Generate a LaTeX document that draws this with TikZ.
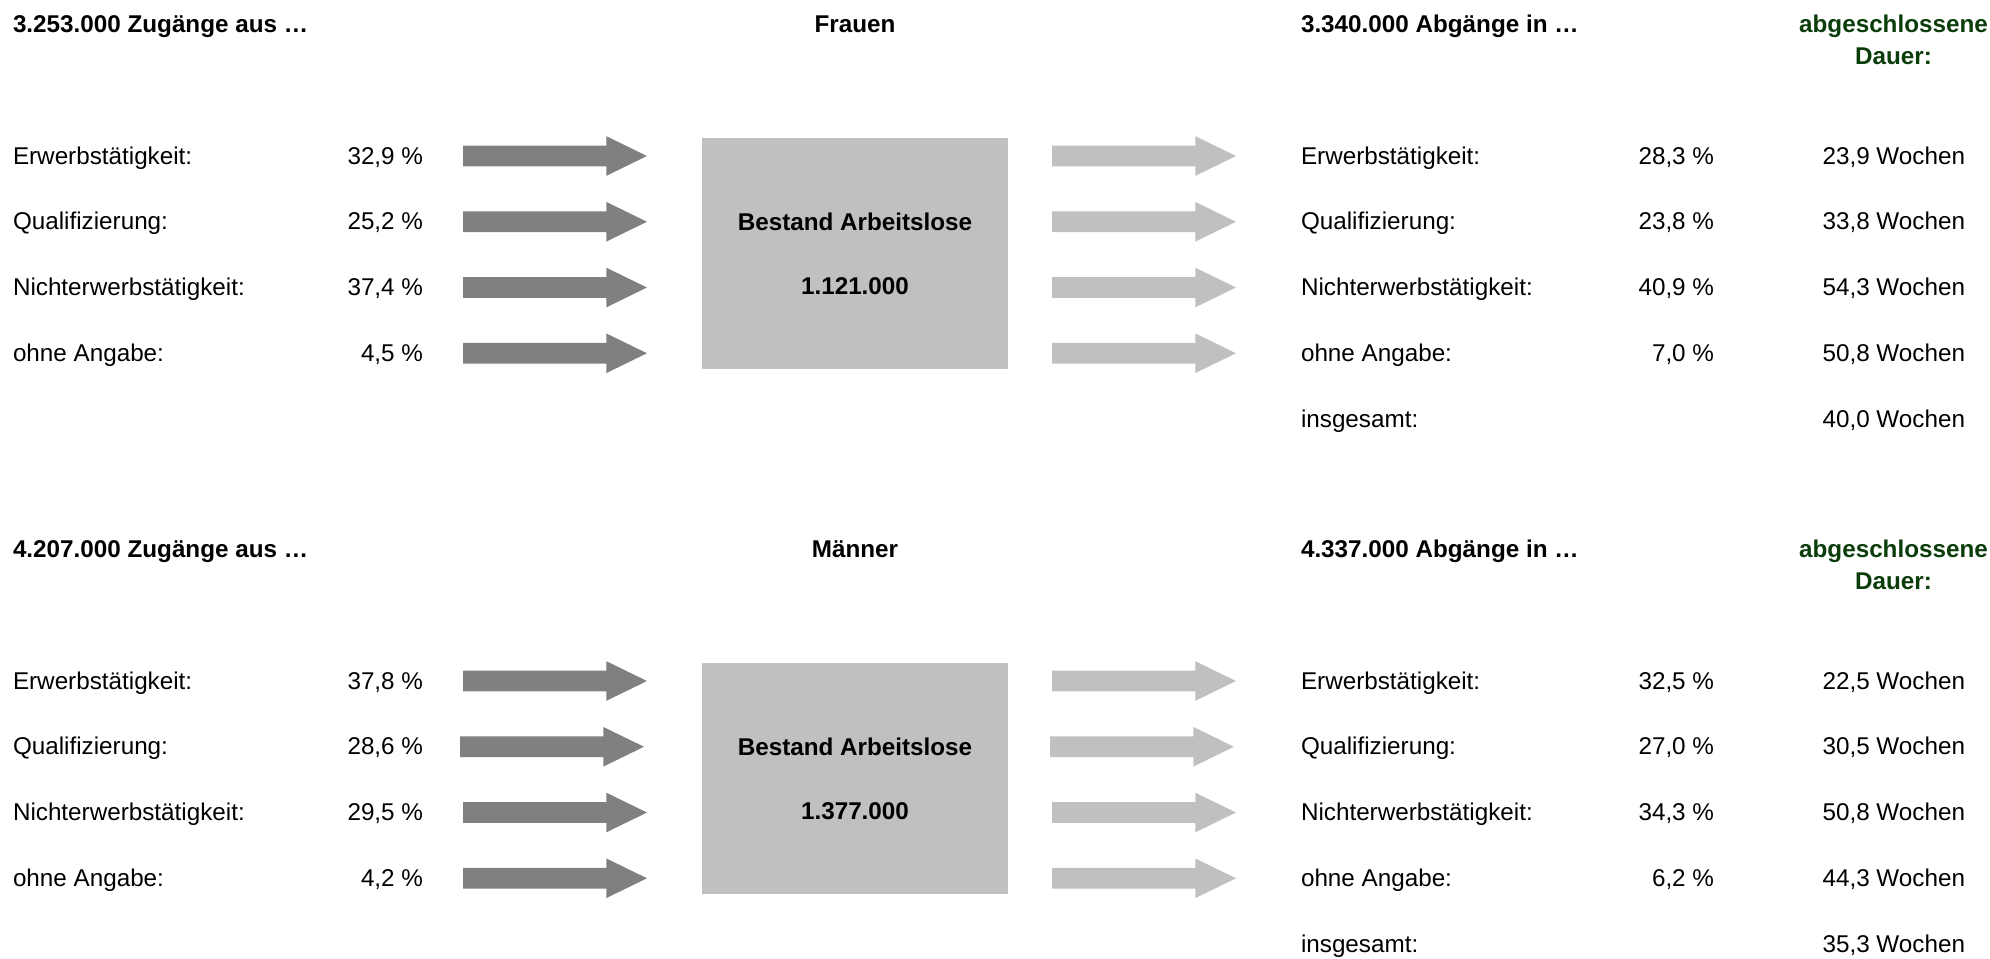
\documentclass[tikz,border=0pt]{standalone}
\usepackage{fontspec}
\setmainfont{Liberation Sans}
\usepackage{xcolor}
\usepackage{tikz}
\usetikzlibrary{shapes.arrows,positioning}

\definecolor{dauergreen}{HTML}{0B3D0B}
\definecolor{inflow}{HTML}{808080}
\definecolor{outflow}{HTML}{C0C0C0}

\begin{document}
\begin{tikzpicture}[
  x=0.02cm, y=-0.02cm,
  every node/.style={inner sep=0pt, outer sep=0pt, font=\fontsize{13.8}{18}\selectfont},
  lbl/.style={anchor=base west},
  val/.style={anchor=base east},
  head/.style={anchor=base west, font=\fontsize{13.8}{18}\selectfont\bfseries},
  midhead/.style={head, anchor=base},
  dauer/.style={midhead, text=dauergreen},
  flow/.style={single arrow, minimum height=3.68cm, inner sep=0.2cm, single arrow head extend=0.19cm, single arrow tip angle=52, anchor=tail},
  inarr/.style={flow, fill=inflow},
  outarr/.style={flow, fill=outflow},
  bestand/.style={fill=outflow, minimum width=6.12cm, minimum height=4.62cm, anchor=north west}
]
\useasboundingbox (0,0) rectangle (1990,958);

% Frauen
\node[head] (fzu) at (13,32) {3.253.000 Zugänge aus …};
\node[midhead] (ftitle) at (855,32) {Frauen};
\node[head] (fab) at (1301,32) {3.340.000 Abgänge in …};
\node[dauer] (fdauer1) at (1893.5,32) {abgeschlossene};
\node[dauer] (fdauer2) at (1893.5,64) {Dauer:};

\node[lbl] (fl1) at (13,164) {Erwerbstätigkeit:};
\node[lbl] (fl2) at (13,229.75) {Qualifizierung:};
\node[lbl] (fl3) at (13,295.5) {Nichterwerbstätigkeit:};
\node[lbl] (fl4) at (13,361.25) {ohne Angabe:};
\node[val] (fp1) at (423,164) {32,9 \%};
\node[val] (fp2) at (423,229.75) {25,2 \%};
\node[val] (fp3) at (423,295.5) {37,4 \%};
\node[val] (fp4) at (423,361.25) {4,5 \%};

\node[inarr] (fi1) at (463,156) {};
\node[inarr] (fi2) at (463,221.75) {};
\node[inarr] (fi3) at (463,287.5) {};
\node[inarr] (fi4) at (463,353.25) {};

\node[bestand] (fbox) at (702,138) {};
\node[midhead] (fbest) at (855,230) {Bestand Arbeitslose};
\node[midhead] (fzahl) at (855,294) {1.121.000};

\node[outarr] (fo1) at (1052,156) {};
\node[outarr] (fo2) at (1052,221.75) {};
\node[outarr] (fo3) at (1052,287.5) {};
\node[outarr] (fo4) at (1052,353.25) {};

\node[lbl] (fr1) at (1301,164) {Erwerbstätigkeit:};
\node[lbl] (fr2) at (1301,229.75) {Qualifizierung:};
\node[lbl] (fr3) at (1301,295.5) {Nichterwerbstätigkeit:};
\node[lbl] (fr4) at (1301,361.25) {ohne Angabe:};
\node[lbl] (fr5) at (1301,427) {insgesamt:};
\node[val] (fq1) at (1714,164) {28,3 \%};
\node[val] (fq2) at (1714,229.75) {23,8 \%};
\node[val] (fq3) at (1714,295.5) {40,9 \%};
\node[val] (fq4) at (1714,361.25) {7,0 \%};
\node[val] (fw1) at (1965,164) {23,9 Wochen};
\node[val] (fw2) at (1965,229.75) {33,8 Wochen};
\node[val] (fw3) at (1965,295.5) {54,3 Wochen};
\node[val] (fw4) at (1965,361.25) {50,8 Wochen};
\node[val] (fw5) at (1965,427) {40,0 Wochen};

% Maenner
\node[head] (mzu) at (13,557) {4.207.000 Zugänge aus …};
\node[midhead] (mtitle) at (855,557) {Männer};
\node[head] (mab) at (1301,557) {4.337.000 Abgänge in …};
\node[dauer] (mdauer1) at (1893.5,557) {abgeschlossene};
\node[dauer] (mdauer2) at (1893.5,589) {Dauer:};

\node[lbl] (ml1) at (13,689) {Erwerbstätigkeit:};
\node[lbl] (ml2) at (13,754.75) {Qualifizierung:};
\node[lbl] (ml3) at (13,820.5) {Nichterwerbstätigkeit:};
\node[lbl] (ml4) at (13,886.25) {ohne Angabe:};
\node[val] (mp1) at (423,689) {37,8 \%};
\node[val] (mp2) at (423,754.75) {28,6 \%};
\node[val] (mp3) at (423,820.5) {29,5 \%};
\node[val] (mp4) at (423,886.25) {4,2 \%};

\node[inarr] (mi1) at (463,681) {};
\node[inarr] (mi2) at (460,746.75) {};
\node[inarr] (mi3) at (463,812.5) {};
\node[inarr] (mi4) at (463,878.25) {};

\node[bestand] (mbox) at (702,663) {};
\node[midhead] (mbest) at (855,755) {Bestand Arbeitslose};
\node[midhead] (mzahl) at (855,819) {1.377.000};

\node[outarr] (mo1) at (1052,681) {};
\node[outarr] (mo2) at (1050,746.75) {};
\node[outarr] (mo3) at (1052,812.5) {};
\node[outarr] (mo4) at (1052,878.25) {};

\node[lbl] (mr1) at (1301,689) {Erwerbstätigkeit:};
\node[lbl] (mr2) at (1301,754.75) {Qualifizierung:};
\node[lbl] (mr3) at (1301,820.5) {Nichterwerbstätigkeit:};
\node[lbl] (mr4) at (1301,886.25) {ohne Angabe:};
\node[lbl] (mr5) at (1301,952) {insgesamt:};
\node[val] (mq1) at (1714,689) {32,5 \%};
\node[val] (mq2) at (1714,754.75) {27,0 \%};
\node[val] (mq3) at (1714,820.5) {34,3 \%};
\node[val] (mq4) at (1714,886.25) {6,2 \%};
\node[val] (mw1) at (1965,689) {22,5 Wochen};
\node[val] (mw2) at (1965,754.75) {30,5 Wochen};
\node[val] (mw3) at (1965,820.5) {50,8 Wochen};
\node[val] (mw4) at (1965,886.25) {44,3 Wochen};
\node[val] (mw5) at (1965,952) {35,3 Wochen};

\end{tikzpicture}
\end{document}
